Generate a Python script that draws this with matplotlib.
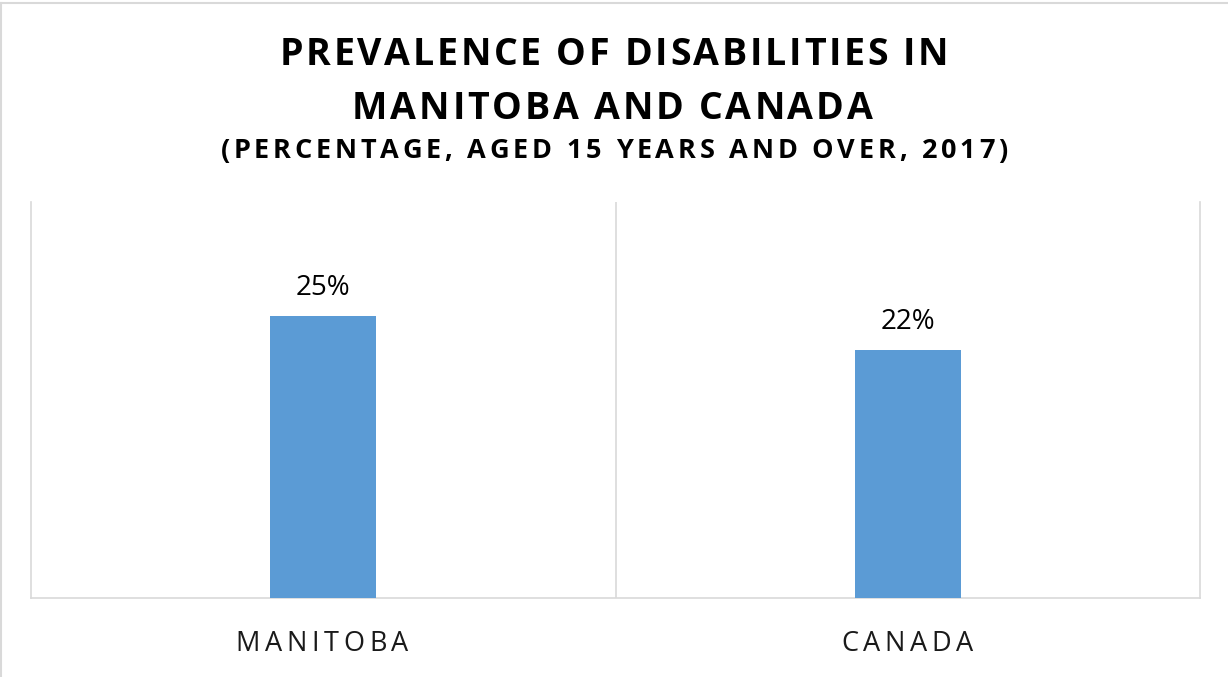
import matplotlib
matplotlib.use("Agg")
import matplotlib.pyplot as plt
from matplotlib.lines import Line2D
from matplotlib import font_manager
from matplotlib.font_manager import FontProperties
from matplotlib.ft2font import FT2Font

categories = ["MANITOBA", "CANADA"]
values = [25, 22]
value_labels = ["25%", "22%"]
title_lines = ["PREVALENCE OF DISABILITIES IN", "MANITOBA AND CANADA"]
subtitle = "(PERCENTAGE, AGED 15 YEARS AND OVER, 2017)"

W, H = 1228, 677
DPI = 100
fig = plt.figure(figsize=(W / DPI, H / DPI), dpi=DPI)
fig.patch.set_facecolor("white")

grid_c = "#d9d9d9"
bar_c = "#5b9bd5"


def tracked_text(cx, baseline_y, s, size, weight, target_w, color="black"):
    """Draw letter-spaced text centred on cx (pixels from left) with
    baseline at baseline_y (pixels from top), spanning target_w pixels."""
    fp = FontProperties(family="Open Sans", weight=weight, size=size)
    path = font_manager.findfont(fp)
    ft = FT2Font(path)
    ft.set_size(size, DPI)
    info = []
    for ch in s:
        g = ft.load_char(ord(ch))
        info.append((ch, g.linearHoriAdvance / 65536.0, g.horiBearingX / 64.0, g.width / 64.0))
    first_b = info[0][2]
    last = info[-1]
    natural = sum(a for _, a, _, _ in info[:-1]) + last[2] + last[3] - first_b
    n = len(s)
    track = (target_w - natural) / (n - 1) if (target_w and n > 1) else 0.0
    total = natural + track * (n - 1)
    ox = cx - total / 2 - first_b
    for ch, adv, bx, w in info:
        if ch != " ":
            fig.text(ox / W, 1 - baseline_y / H, ch, ha="left", va="baseline",
                     fontproperties=fp, color=color)
        ox += adv + track


ax = fig.add_axes([31 / W, 1 - 598 / H, (1200 - 31) / W, (598 - 202) / H])
x = list(range(len(categories)))
ax.bar(x, values, width=0.182, color=bar_c, zorder=3)
ax.set_xlim(-0.5, len(categories) - 0.5)
ax.set_ylim(0, 35.1)
ax.set_yticks([])
ax.set_xticks([])
ax.spines["top"].set_visible(False)
for s in ["left", "right", "bottom"]:
    ax.spines[s].set_color(grid_c)
    ax.spines[s].set_linewidth(1.2)
for b in range(1, len(categories)):
    ax.axvline(b - 0.5, color=grid_c, linewidth=1.2, zorder=1)

for xi, v, lab in zip(x, values, value_labels):
    ax.annotate(lab, (xi, v), xytext=(0, 15), textcoords="offset points",
                ha="center", va="baseline", fontfamily="Open Sans", fontsize=20,
                color="black")

# category labels (letter-spaced), positioned through the data transform
cat_widths = [170, 130]
for xi, cat, tw in zip(x, categories, cat_widths):
    px = ax.transData.transform((xi, 0))[0]
    tracked_text(px, 651, cat, 19.5, "normal", tw, color="#1a1a1a")

tracked_text(614, 65, title_lines[0], 27, "bold", 662)
tracked_text(614, 119, title_lines[1], 27, "bold", 517)
tracked_text(614, 158, subtitle, 19.5, "bold", 785)

fig.add_artist(Line2D([1.5 / W, 1.5 / W], [0, 1 - 3 / H], color=grid_c, linewidth=1.5))
fig.add_artist(Line2D([1.5 / W, 1], [1 - 3 / H, 1 - 3 / H], color=grid_c, linewidth=1.5))

fig.savefig("out.png", dpi=DPI)
